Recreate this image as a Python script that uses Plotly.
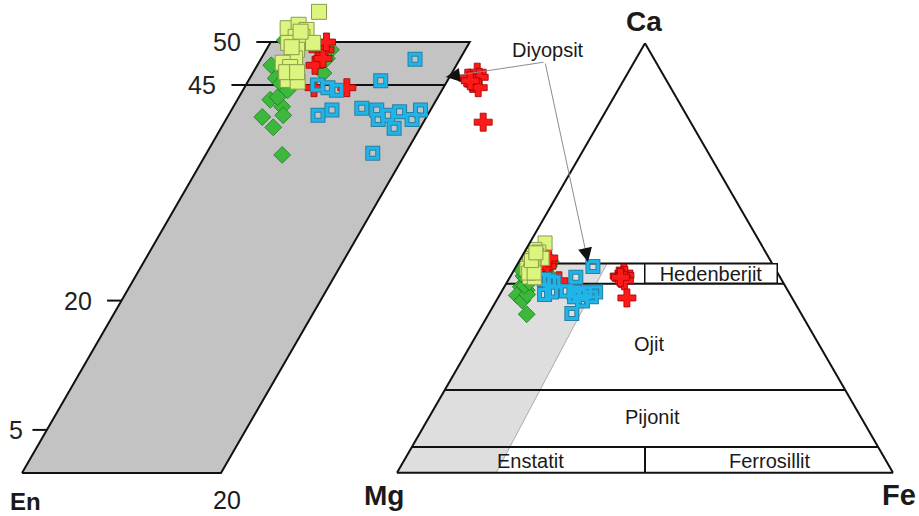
import plotly.graph_objects as go

# Pyroxene analyses (mol %): Wo = wollastonite (Ca), Fs = ferrosilite (Fe); En = 100 - Wo - Fs
grup_a_wo = [53.5, 51.6, 52.0, 51.4, 50.6, 50.6, 49.9, 49.1, 49.9, 48.1, 47.6, 47.1, 45.6, 45.4, 46.5, 46.5, 49.4, 51.2]
grup_a_fs = [3.1, 0.9, 1.8, 2.9, 2.2, 2.9, 4.3, 3.1, 1.8, 3.4, 2.4, 3.4, 3.9, 5.0, 3.3, 4.4, 2.4, 2.4]

grup_b_wo = [45.8, 43.3, 42.5, 41.3, 40.1, 41.5, 43.6, 36.9, 49.1, 48.1, 46.4, 45.2, 50.2, 44.4, 47.3]
grup_b_fs = [2.6, 3.3, 4.9, 3.5, 5.2, 5.5, 3.9, 7.7, 6.5, 6.6, 7.1, 3.4, 1.3, 4.5, 1.4]

grup_c_wo = [49.1, 49.1, 47.3, 48.1, 50.0, 44.7, 44.7, 46.5, 45.8, 45.9, 45.2, 44.7, 45.5, 40.7]
grup_c_fs = [5.2, 5.9, 5.8, 6.2, 5.6, 7.0, 10.3, 22.5, 21.9, 23.0, 22.7, 23.5, 22.3, 26.0]

grup_d_wo = [48.0, 45.5, 45.0, 44.7, 44.4, 41.5, 42.1, 42.3, 42.1, 41.0, 41.5, 41.9, 41.0, 42.1, 40.0, 37.1]
grup_d_fs = [15.5, 13.3, 7.2, 8.4, 9.4, 9.0, 10.1, 13.0, 14.6, 15.3, 16.0, 17.0, 18.7, 19.0, 17.4, 16.7]

# Enlarged window of the quadrilateral (Wo 0-50, Fs 0-20) and its Wo ticks
quad_wo_max = 50
quad_fs_max = 20
wo_ticks = [50, 45, 20, 5]

# Field boundaries in the Ca-Mg-Fe triangle (Wo %) and the shaded window outline
field_wo = [48.7, 44.0, 19.3, 6.0]
window_wo = [0, 0, 48.7, 48.7, 0]
window_fs = [0, 20, 18.0, 0, 0]

W, H = 919, 516
X0_PX, X_PX = 22, 9.95      # enlarged panel: origin and px per Fs unit
Y0_PX, Y_PX = 473, 8.62     # enlarged panel: baseline and px per Wo unit
SHEAR = 0.5                 # ternary offset: half a Wo unit per Wo unit
TICK = 1.45                 # tick length in Fs units


def quad_x(wo, fs):
    return [f + SHEAR * w for w, f in zip(wo, fs)]


def en(wo, fs):
    return [100 - w - f for w, f in zip(wo, fs)]


def pp(xp, yp):
    return xp / W, 1 - yp / H


styles = {
    "b": dict(symbol="diamond", color="#3cb83c", line=dict(color="#1f7a1f", width=0.8)),
    "c": dict(symbol="cross", color="#ff1a1a", line=dict(color="#a00000", width=0.8)),
    "a": dict(symbol="square", color="#dcf57f", line=dict(color="#8c9c4c", width=1)),
}
groups = {"a": (grup_a_wo, grup_a_fs), "b": (grup_b_wo, grup_b_fs),
          "c": (grup_c_wo, grup_c_fs), "d": (grup_d_wo, grup_d_fs)}
open_sq = (("#2b7fa0", 5.0), ("#1fb5e8", 3.0))

fig = go.Figure()

# ---------- enlarged Wo-En-Fs panel ----------
cw = [0, 0, quad_wo_max, quad_wo_max, 0]
cf = [0, quad_fs_max, quad_fs_max, 0, 0]
fig.add_trace(go.Scatter(x=quad_x(cw, cf), y=cw, mode="lines", fill="toself",
                         fillcolor="#c3c3c3", line=dict(color="#111", width=2),
                         hoverinfo="skip"))

# Wo = 45 boundary and tick marks on the Fs = 0 edge
tx, ty = [], []
for tv in wo_ticks:
    x0 = SHEAR * tv
    x1 = x0 + (quad_fs_max if tv == 45 else 0)
    tx += [x0 - TICK, x1, None]
    ty += [tv, tv, None]
fig.add_trace(go.Scatter(x=tx, y=ty, mode="lines", line=dict(color="#111", width=2),
                         hoverinfo="skip"))


def add_left(key, size):
    wo, fs = groups[key]
    fig.add_trace(go.Scatter(x=quad_x(wo, fs), y=wo, mode="markers",
                             marker=dict(size=size, **styles[key]), hoverinfo="skip"))


def add_left_open(size):
    wo, fs = groups["d"]
    for col, lw in open_sq:
        fig.add_trace(go.Scatter(x=quad_x(wo, fs), y=wo, mode="markers",
                                 marker=dict(symbol="square-open", size=size, color=col,
                                             line=dict(width=lw)),
                                 hoverinfo="skip"))


add_left("b", 13)
add_left("c", 15)
add_left_open(10)
add_left("a", 15)

# ---------- Ca-Mg-Fe ternary ----------
fig.add_trace(go.Scatterternary(a=window_wo, c=window_fs, b=en(window_wo, window_fs),
                                mode="lines", fill="toself", fillcolor="#dedede",
                                line=dict(color="#9a9a9a", width=0.8), hoverinfo="skip"))

la, lb, lc = [], [], []
for w in field_wo:
    la += [w, w, None]
    lb += [100 - w, 0, None]
    lc += [0, 100 - w, None]
for w0, w1 in ((field_wo[1], field_wo[0]), (0, field_wo[3])):
    la += [w0, w1, None]
    lb += [(100 - w0) / 2, (100 - w1) / 2, None]
    lc += [(100 - w0) / 2, (100 - w1) / 2, None]
fig.add_trace(go.Scatterternary(a=la, b=lb, c=lc, mode="lines",
                                line=dict(color="#111", width=2), hoverinfo="skip"))


def add_tern(key, size):
    wo, fs = groups[key]
    fig.add_trace(go.Scatterternary(a=wo, c=fs, b=en(wo, fs), mode="markers",
                                    marker=dict(size=size, **styles[key]), hoverinfo="skip"))


def add_tern_open(size):
    wo, fs = groups["d"]
    for col, lw in open_sq:
        fig.add_trace(go.Scatterternary(a=wo, c=fs, b=en(wo, fs), mode="markers",
                                        marker=dict(symbol="square-open", size=size, color=col,
                                                    line=dict(width=lw)),
                                        hoverinfo="skip"))


add_tern("b", 13)
add_tern("c", 15)
add_tern_open(10)
add_tern("a", 14)

# ---------- text ----------
FONT = "Liberation Sans, Arial, sans-serif"
ann = []
for tv in wo_ticks:
    ann.append(dict(x=SHEAR * tv, y=tv, xref="x", yref="y", text=str(tv), showarrow=False,
                    xanchor="right", yanchor="middle", xshift=-28 if tv > 5 else -22,
                    font=dict(family=FONT, size=25, color="#222")))


def label(xp, yp, text, size, bold=False, **kw):
    x, y = pp(xp, yp)
    t = f"<b>{text}</b>" if bold else text
    d = dict(x=x, y=y, xref="paper", yref="paper", text=t, showarrow=False,
             xanchor="center", yanchor="middle",
             font=dict(family=FONT, size=size, color="#1a1a1a"))
    d.update(kw)
    ann.append(d)


label(25, 501, "En", 24, bold=True)
label(227, 500, "20", 25)
label(644, 22, "Ca", 28, bold=True)
label(384, 495, "Mg", 28, bold=True)
label(899, 495, "Fe", 29, bold=True)
label(548, 50, "Diyopsit", 20)
label(649, 344, "Ojit", 20)
label(652, 417, "Pijonit", 20)
label(530, 461, "Enstatit", 20)
label(770, 461, "Ferrosillit", 20)
label(710.5, 273.5, "Hedenberjit", 20, bgcolor="white", bordercolor="#111", borderwidth=1.5,
      width=131, height=18, borderpad=0)

# leader lines from the Diyopsit label
for (hx, hy), (tx_, ty_) in (((446, 77), (545, 62)), ((588, 262), (545, 62))):
    x, y = pp(hx, hy)
    ax, ay = tx_ - hx, ty_ - hy
    ann.append(dict(x=x, y=y, xref="paper", yref="paper", text="", showarrow=True,
                    ax=ax, ay=ay, arrowhead=0, arrowwidth=1, arrowcolor="#8c8c8c"))
    n = (ax ** 2 + ay ** 2) ** 0.5
    ann.append(dict(x=x, y=y, xref="paper", yref="paper", text="", showarrow=True,
                    ax=ax / n * 14, ay=ay / n * 14, arrowhead=2, arrowsize=1.4,
                    arrowwidth=2, arrowcolor="#111"))

axis_t = dict(showline=True, linecolor="#111", linewidth=2, showgrid=False,
              showticklabels=False, ticks="", title=dict(text=""))

XD = 0.58
fig.update_layout(
    width=W, height=H, margin=dict(l=0, r=0, t=0, b=0),
    paper_bgcolor="white", plot_bgcolor="rgba(0,0,0,0)",
    showlegend=False, hovermode=False,
    xaxis=dict(visible=False, domain=[0, XD],
               range=[-X0_PX / X_PX, (XD * W - X0_PX) / X_PX]),
    yaxis=dict(visible=False, domain=[0, 1],
               range=[(Y0_PX - H) / Y_PX, Y0_PX / Y_PX]),
    ternary=dict(
        domain=dict(x=[397 / W, 893 / W], y=[(H - 474) / H, (H - 42) / H]),
        sum=100, bgcolor="rgba(0,0,0,0)",
        aaxis=axis_t, baxis=axis_t, caxis=axis_t,
    ),
    annotations=ann,
)

fig.write_html("out.html")
